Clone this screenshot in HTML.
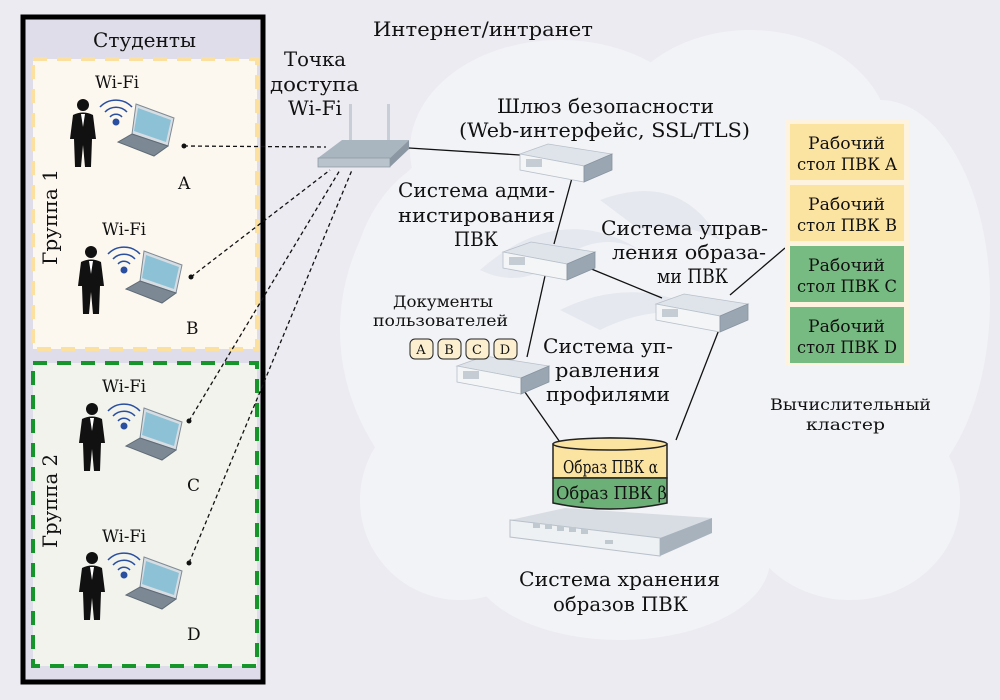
<!DOCTYPE html>
<html><head><meta charset="utf-8"><style>
html,body{margin:0;padding:0;background:#ecebf2;}
svg{display:block;font-family:"DejaVu Serif","Liberation Serif",serif;}
</style></head><body>
<svg width="1000" height="700" viewBox="0 0 1000 700" xmlns="http://www.w3.org/2000/svg">
<defs>
<g id="srv">
 <polygon points="0,10 28,0 92,10 64,22" fill="#dfe4ea" stroke="#b8c0ca" stroke-width="0.8"/>
 <polygon points="0,10 64,22 64,38 0,26" fill="#f3f5f7" stroke="#b8c0ca" stroke-width="0.8"/>
 <polygon points="64,22 92,10 92,26 64,38" fill="#9aa6b2" stroke="#8894a0" stroke-width="0.8"/>
 <rect x="6" y="15" width="16" height="8" fill="#c5ccd4"/>
</g>
<g id="person">
 <circle cx="13" cy="8" r="6" fill="#111"/>
 <path d="M3,18 Q13,13 23,18 L26,42 L22,42 L21,70 L15,70 L13,48 L11,70 L5,70 L4,42 L0,42 Z" fill="#111"/>
 <path d="M11,17 L13,30 L15,17 Z" fill="#fff"/>
</g>
<g id="laptop">
 <polygon points="12,0 50,14 44,42 8,30" fill="#d7dde3" stroke="#7f8b96"/>
 <polygon points="14,4 47,16 42,38 10,27" fill="#8dc2d6"/>
 <polygon points="8,30 44,42 30,52 -6,38" fill="#7c8894" stroke="#5f6b76"/>
</g>
<g id="wifi" fill="none" stroke="#2a4fa0" stroke-width="1.5">
 <path d="M-16,-6 A22,22 0 0 1 16,-6"/>
 <path d="M-11,-1 A15,15 0 0 1 11,-1"/>
 <path d="M-6,4 A8,8 0 0 1 6,4"/>
</g>
</defs>

<!-- cloud -->
<g fill="#f2f3f7">
 <ellipse cx="640" cy="330" rx="300" ry="250"/>
 <ellipse cx="470" cy="300" rx="120" ry="150"/>
 <ellipse cx="560" cy="150" rx="150" ry="110"/>
 <ellipse cx="750" cy="140" rx="140" ry="110"/>
 <ellipse cx="880" cy="300" rx="110" ry="200"/>
 <ellipse cx="460" cy="500" rx="100" ry="100"/>
 <ellipse cx="620" cy="560" rx="150" ry="80"/>
 <ellipse cx="850" cy="500" rx="110" ry="100"/>
</g>
<g fill="#e3e6ee" opacity="0.8">
 <path d="M480,270 Q560,200 640,250 Q600,230 560,260 Q520,290 480,270Z"/>
 <path d="M600,200 Q680,170 720,240 Q680,220 640,230Z"/>
 <path d="M560,310 Q640,270 720,320 Q660,300 600,330Z"/>
</g>

<!-- left panel -->
<rect x="23" y="17" width="240" height="665" fill="#dfdde9" stroke="#000" stroke-width="5"/>
<text x="93" y="47" font-size="20" textLength="103" lengthAdjust="spacingAndGlyphs" fill="#111">Студенты</text>
<rect x="33" y="59" width="224" height="290" fill="#fdf8ef" stroke="#fbe0a0" stroke-width="4" stroke-dasharray="14,10"/>
<rect x="33" y="363" width="224" height="303" fill="#f1f3ec" stroke="#16962a" stroke-width="4" stroke-dasharray="14,10"/>
<text transform="translate(57,265) rotate(-90)" font-size="20" textLength="96" lengthAdjust="spacingAndGlyphs" fill="#111">Группа 1</text>
<text transform="translate(57,548) rotate(-90)" font-size="20" textLength="94" lengthAdjust="spacingAndGlyphs" fill="#111">Группа 2</text>

<!-- students -->
<g font-size="17" fill="#111">
 <text x="95" y="88" textLength="44" lengthAdjust="spacingAndGlyphs">Wi-Fi</text>
 <text x="102" y="235" textLength="44" lengthAdjust="spacingAndGlyphs">Wi-Fi</text>
 <text x="102" y="392" textLength="44" lengthAdjust="spacingAndGlyphs">Wi-Fi</text>
 <text x="102" y="542" textLength="44" lengthAdjust="spacingAndGlyphs">Wi-Fi</text>
 <text x="178" y="189">A</text>
 <text x="186" y="334">B</text>
 <text x="187" y="491">C</text>
 <text x="187" y="640">D</text>
</g>
<use href="#person" x="70" y="97"/>
<use href="#person" x="78" y="244"/>
<use href="#person" x="79" y="401"/>
<use href="#person" x="79" y="550"/>
<use href="#laptop" x="124" y="104"/>
<use href="#laptop" x="132" y="251"/>
<use href="#laptop" x="132" y="408"/>
<use href="#laptop" x="132" y="557"/>
<use href="#wifi" x="116" y="113"/><circle cx="116" cy="122" r="3.5" fill="#2a4fa0"/>
<use href="#wifi" x="124" y="260"/><circle cx="124" cy="270" r="3.5" fill="#2a4fa0"/>
<use href="#wifi" x="124" y="417"/><circle cx="124" cy="426" r="3.5" fill="#2a4fa0"/>
<use href="#wifi" x="124" y="566"/><circle cx="124" cy="575" r="3.5" fill="#2a4fa0"/>

<!-- dotted links -->
<g stroke="#111" stroke-width="1.3" stroke-dasharray="4,3" fill="none">
 <line x1="184" y1="146" x2="326" y2="147"/>
 <line x1="191" y1="277" x2="330" y2="170"/>
 <line x1="189" y1="421" x2="340" y2="170"/>
 <line x1="189" y1="563" x2="352" y2="170"/>
</g>
<g fill="#111"><circle cx="184" cy="146" r="2.5"/><circle cx="191" cy="277" r="2.5"/><circle cx="189" cy="421" r="2.5"/><circle cx="189" cy="563" r="2.5"/></g>

<!-- router -->
<rect x="349" y="104" width="3" height="40" fill="#c7ced6"/>
<rect x="387" y="104" width="3" height="40" fill="#c7ced6"/>
<polygon points="318,158 342,140 409,140 390,158" fill="#a9b5bf"/>
<polygon points="318,158 390,158 390,167 318,167" fill="#b8c3cc" stroke="#8d99a3" stroke-width="0.8"/>
<polygon points="390,158 409,140 409,149 390,167" fill="#8b97a2"/>
<g font-size="20" fill="#111">
<text x="284" y="66" textLength="62" lengthAdjust="spacingAndGlyphs">Точка</text>
<text x="270" y="91" textLength="89" lengthAdjust="spacingAndGlyphs">доступа</text>
<text x="288" y="115" textLength="54" lengthAdjust="spacingAndGlyphs">Wi-Fi</text>
<text x="373" y="36" textLength="220" lengthAdjust="spacingAndGlyphs">Интернет/интранет</text>
</g>

<!-- solid links -->
<g stroke="#111" stroke-width="1.3">
 <line x1="409" y1="148" x2="520" y2="155"/>
 <line x1="572" y1="178" x2="554" y2="244"/>
 <line x1="589" y1="268" x2="662" y2="298"/>
 <line x1="545" y1="276" x2="527" y2="357"/>
 <line x1="722" y1="322" x2="676" y2="440"/>
 <line x1="520" y1="385" x2="562" y2="445"/>
 <line x1="730" y1="295" x2="785" y2="248"/>
</g>

<use href="#srv" x="520" y="144"/>
<use href="#srv" x="503" y="242"/>
<use href="#srv" x="656" y="294"/>
<use href="#srv" x="457" y="356"/>

<g font-size="20" fill="#111" lengthAdjust="spacingAndGlyphs">
 <text x="497" y="113" textLength="217" lengthAdjust="spacingAndGlyphs">Шлюз безопасности</text>
 <text x="459" y="137" textLength="291" lengthAdjust="spacingAndGlyphs">(Web-интерфейс, SSL/TLS)</text>
 <text x="398" y="197" textLength="157" lengthAdjust="spacingAndGlyphs">Система адми-</text>
 <text x="398" y="222" textLength="157" lengthAdjust="spacingAndGlyphs">нистирования</text>
 <text x="454" y="246" textLength="44" lengthAdjust="spacingAndGlyphs">ПВК</text>
 <text x="601" y="235" textLength="167" lengthAdjust="spacingAndGlyphs">Система управ-</text>
 <text x="612" y="259" textLength="154" lengthAdjust="spacingAndGlyphs">ления образа-</text>
 <text x="657" y="283" textLength="71" lengthAdjust="spacingAndGlyphs">ми ПВК</text>
 <text x="543" y="353" textLength="130" lengthAdjust="spacingAndGlyphs">Система уп-</text>
 <text x="555" y="377" textLength="105" lengthAdjust="spacingAndGlyphs">равления</text>
 <text x="546" y="401" textLength="124" lengthAdjust="spacingAndGlyphs">профилями</text>
 <text x="519" y="586" textLength="201" lengthAdjust="spacingAndGlyphs">Система хранения</text>
 <text x="553" y="611" textLength="135" lengthAdjust="spacingAndGlyphs">образов ПВК</text>
</g>
<g font-size="16" fill="#111">
 <text x="393" y="307" textLength="100" lengthAdjust="spacingAndGlyphs">Документы</text>
 <text x="373" y="326" textLength="135" lengthAdjust="spacingAndGlyphs">пользователей</text>
 <text x="770" y="410" textLength="161" lengthAdjust="spacingAndGlyphs">Вычислительный</text>
 <text x="806" y="430" textLength="79" lengthAdjust="spacingAndGlyphs">кластер</text>
</g>
<!-- docs -->
<g font-size="13" text-anchor="middle" fill="#111">
 <rect x="410" y="339" width="23" height="20" rx="5" fill="#fbefd0" stroke="#222"/><text x="421" y="354">A</text>
 <rect x="438" y="339" width="23" height="20" rx="5" fill="#fbefd0" stroke="#222"/><text x="449" y="354">B</text>
 <rect x="466" y="339" width="23" height="20" rx="5" fill="#fbefd0" stroke="#222"/><text x="477" y="354">C</text>
 <rect x="494" y="339" width="23" height="20" rx="5" fill="#fbefd0" stroke="#222"/><text x="505" y="354">D</text>
</g>

<!-- storage -->
<polygon points="510,520 565,508 712,518 660,538" fill="#d8dde3"/>
<polygon points="510,520 660,538 660,556 510,537" fill="#eef1f4" stroke="#b8c0ca"/>
<polygon points="660,538 712,518 712,533 660,556" fill="#a7b2bc"/>
<g fill="#c0c8d0"><rect x="533" y="523" width="7" height="5"/><rect x="545" y="524" width="7" height="5"/><rect x="557" y="526" width="7" height="5"/><rect x="569" y="527" width="7" height="5"/><rect x="581" y="529" width="7" height="5"/><rect x="605" y="540" width="8" height="4"/></g>
<path d="M553,444 Q610,432 667,444 V478 H553 Z" fill="#fbe3a1" stroke="#222" stroke-width="1.5"/>
<path d="M553,478 H667 V503 Q610,515 553,503 Z" fill="#6cb077" stroke="#222" stroke-width="1.5"/>
<ellipse cx="610" cy="444" rx="57" ry="6" fill="#fbe3a1" stroke="#222" stroke-width="1.5"/>
<text x="563" y="473" font-size="18" textLength="95" lengthAdjust="spacingAndGlyphs" fill="#111">Образ ПВК α</text>
<text x="556" y="499" font-size="18" textLength="111" lengthAdjust="spacingAndGlyphs" fill="#111">Образ ПВК β</text>

<!-- desktops -->
<rect x="785" y="120" width="124" height="246" fill="#fdf3de"/>
<rect x="790" y="124" width="114" height="56" fill="#fbe3a1"/>
<rect x="790" y="185" width="114" height="56" fill="#fbe3a1"/>
<rect x="790" y="246" width="114" height="56" fill="#77bb82"/>
<rect x="790" y="307" width="114" height="56" fill="#77bb82"/>
<g font-size="17" fill="#111">
 <text x="808" y="149" textLength="77" lengthAdjust="spacingAndGlyphs">Рабочий</text><text x="797" y="170" textLength="100" lengthAdjust="spacingAndGlyphs">стол ПВК A</text>
 <text x="808" y="210" textLength="77" lengthAdjust="spacingAndGlyphs">Рабочий</text><text x="797" y="231" textLength="100" lengthAdjust="spacingAndGlyphs">стол ПВК B</text>
 <text x="808" y="271" textLength="77" lengthAdjust="spacingAndGlyphs">Рабочий</text><text x="797" y="292" textLength="100" lengthAdjust="spacingAndGlyphs">стол ПВК C</text>
 <text x="808" y="332" textLength="77" lengthAdjust="spacingAndGlyphs">Рабочий</text><text x="797" y="353" textLength="100" lengthAdjust="spacingAndGlyphs">стол ПВК D</text>
</g>
</svg>
</body></html>
